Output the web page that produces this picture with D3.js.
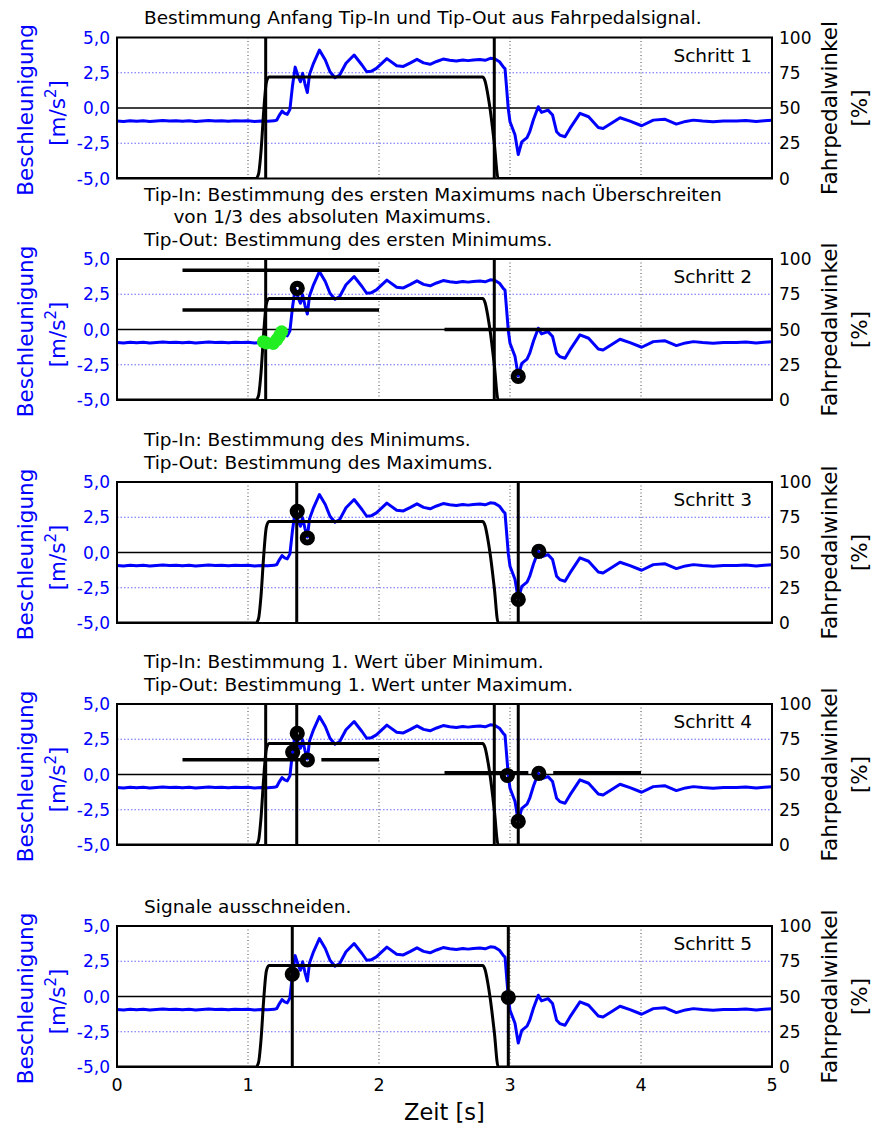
<!DOCTYPE html>
<html>
<head>
<meta charset="utf-8">
<script src="https://cdn.jsdelivr.net/npm/d3@7"></script>
<style>
  body { margin: 0; background: #fff; }
  text { font-family: "DejaVu Sans", Verdana, sans-serif; }
</style>
</head>
<body>
<svg id="chart" width="872" height="1124"></svg>
<script>
// acceleration signal [m/s^2]
const timeAcc = [0.00, 0.05, 0.10, 0.15, 0.20, 0.25, 0.30, 0.35, 0.40, 0.45, 0.50, 0.55, 0.60, 0.65, 0.70,
  0.75, 0.80, 0.85, 0.90, 0.95, 1.00, 1.05, 1.10, 1.15, 1.20, 1.22, 1.24, 1.26, 1.28, 1.30, 1.32, 1.34, 1.36,
  1.385, 1.40, 1.417, 1.435, 1.453, 1.47, 1.50, 1.545, 1.59, 1.626, 1.664, 1.70, 1.748, 1.81, 1.87, 1.906,
  1.94, 1.98, 2.06, 2.135, 2.186, 2.24, 2.29, 2.34, 2.39, 2.44, 2.49, 2.54, 2.59, 2.64, 2.68, 2.72, 2.77,
  2.81, 2.85, 2.88, 2.92, 2.95, 2.962, 2.975, 2.987, 3.00, 3.038, 3.063, 3.09, 3.13, 3.15, 3.18, 3.216, 3.24,
  3.29, 3.325, 3.356, 3.38, 3.42, 3.458, 3.534, 3.60, 3.674, 3.71, 3.78, 3.84, 3.916, 4.005, 4.094, 4.18, 4.27,
  4.34, 4.40, 4.47, 4.55, 4.63, 4.73, 4.80, 4.88, 4.94, 5.00]
const accel = [-0.92, -0.95, -0.90, -0.94, -0.91, -0.95, -0.92, -0.89, -0.93, -0.90, -0.94, -0.91, -0.95, -0.92, -0.89,
  -0.93, -0.91, -0.94, -0.90, -0.93, -0.91, -0.95, -0.92, -0.94, -0.91, -0.85, -0.50, -0.22, -0.38, -0.45, -0.10, 1.60, 2.90,
  2.20, 1.86, 2.46, 1.70, 1.10, 2.40, 3.17, 4.11, 3.40, 2.57, 2.15, 2.34, 3.17, 3.76, 3.05, 2.57,
  2.60, 2.81, 3.50, 3.00, 2.95, 3.20, 3.45, 3.20, 3.10, 3.30, 3.47, 3.38, 3.33, 3.40, 3.36, 3.40, 3.44,
  3.38, 3.52, 3.50, 3.28, 2.90, 2.80, 1.30, -0.07, -0.97, -1.90, -3.30, -2.40, -2.10, -1.70, -0.80, 0.09, -0.31,
  -0.15, -0.50, -1.69, -1.92, -2.04, -1.45, -0.38, -0.62, -1.38, -1.45, -1.05, -0.69, -0.93, -1.26, -0.86, -0.79, -1.14,
  -0.95, -0.86, -0.93, -0.98, -0.92, -0.93, -0.88, -0.95, -0.90, -0.86]

// accelerator pedal angle [%]
const timePedal = [0, 1.06, 1.08, 1.10, 1.12, 1.14, 1.16, 2.79, 2.81, 2.83, 2.85, 2.88, 2.91, 5]
const pedal = [0, 0, 3, 20, 48, 68, 72, 72, 69, 60, 48, 25, 0, 0]

const stepNames = ["Schritt 1", "Schritt 2", "Schritt 3", "Schritt 4", "Schritt 5"]
const titles = [
  ["Bestimmung Anfang Tip-In und Tip-Out aus Fahrpedalsignal."],
  ["Tip-In: Bestimmung des ersten Maximums nach Überschreiten",
   "     von 1/3 des absoluten Maximums.",
   "Tip-Out: Bestimmung des ersten Minimums."],
  ["Tip-In: Bestimmung des Minimums.", "Tip-Out: Bestimmung des Maximums."],
  ["Tip-In: Bestimmung 1. Wert über Minimum.", "Tip-Out: Bestimmung 1. Wert unter Maximum."],
  ["Signale ausschneiden."]
]

// vertical markers (time [s]) per step
const cutTimes = [[1.135, 2.88], [1.135, 2.88], [1.372, 3.063], [1.135, 1.372, 2.88, 3.063], [1.338, 2.987]]
// thresholds: [from s, to s, level m/s^2]
const levels = [
  [],
  [[0.5, 2.0, 4.2], [0.5, 2.0, 1.38], [2.5, 5.0, 0]],
  [],
  [[0.5, 1.40, 1.04], [1.56, 2.0, 1.04], [2.5, 3.14, 0.12], [3.33, 4.0, 0.12]],
  []
]
// found points: [time s, accel]
const foundPoints = [
  [],
  [[1.376, 2.92], [3.063, -3.33]],
  [[1.376, 2.92], [1.453, 1.03], [3.063, -3.33], [3.22, 0.08]],
  [[1.341, 1.59], [1.376, 2.92], [1.453, 1.03], [2.98, -0.07], [3.063, -3.33], [3.22, 0.08]],
  [[1.338, 1.59], [2.987, -0.07]]
]
const greenPoints = [[1.117, -0.87], [1.14, -0.95], [1.193, -0.99], [1.22, -0.72], [1.24, -0.45], [1.257, -0.16]]

const accTicks = [-5, -2.5, 0, 2.5, 5]
const pedalTicks = [0, 25, 50, 75, 100]
const timeTicks = [0, 1, 2, 3, 4, 5]

const svg = d3.select('#chart')
const tops = [37.5, 259, 482, 704, 926]
const plotH = 141
const x = d3.scaleLinear().domain([0, 5]).range([117, 772])
const fmt = v => d3.format('.1f')(v).replace('.', ',').replace('−', '-')

const accSeries = timeAcc.map((t, i) => [t, accel[i]])
const pedalSeries = timePedal.map((t, i) => [t, pedal[i]])

tops.forEach((top, k) => {
  const yL = d3.scaleLinear().domain([-5, 5]).range([top + plotH, top])
  const yR = d3.scaleLinear().domain([0, 100]).range([top + plotH, top])
  const g = svg.append('g')

  g.append('clipPath').attr('id', 'clip' + k)
    .append('rect').attr('x', x(0)).attr('y', top).attr('width', x(5) - x(0)).attr('height', plotH)

  // grid
  g.selectAll('.vg').data([1, 2, 3, 4]).join('line')
    .attr('x1', d => x(d)).attr('x2', d => x(d)).attr('y1', top).attr('y2', top + plotH)
    .attr('stroke', '#444').attr('stroke-width', 1).attr('stroke-dasharray', '1,2.5')
  g.selectAll('.hg').data([-2.5, 2.5]).join('line')
    .attr('x1', x(0)).attr('x2', x(5)).attr('y1', d => yL(d)).attr('y2', d => yL(d))
    .attr('stroke', '#6a6aff').attr('stroke-width', 1.2).attr('stroke-dasharray', '1.5,2')
  g.append('line').attr('x1', x(0)).attr('x2', x(5)).attr('y1', yL(0)).attr('y2', yL(0))
    .attr('stroke', '#000').attr('stroke-width', 1.5)

  const plot = g.append('g').attr('clip-path', `url(#clip${k})`)

  plot.append('path').datum(accSeries)
    .attr('d', d3.line().x(d => x(d[0])).y(d => yL(d[1])))
    .attr('fill', 'none').attr('stroke', '#0000ff').attr('stroke-width', 3).attr('stroke-linejoin', 'round')

  plot.append('path').datum(pedalSeries)
    .attr('d', d3.line().x(d => x(d[0])).y(d => yR(d[1])).curve(d3.curveMonotoneX))
    .attr('fill', 'none').attr('stroke', '#000').attr('stroke-width', 3)

  plot.selectAll('.cut').data(cutTimes[k]).join('line')
    .attr('x1', d => x(d)).attr('x2', d => x(d)).attr('y1', top).attr('y2', top + plotH)
    .attr('stroke', '#000').attr('stroke-width', 3)

  plot.selectAll('.lvl').data(levels[k]).join('line')
    .attr('x1', d => x(d[0])).attr('x2', d => x(d[1])).attr('y1', d => yL(d[2])).attr('y2', d => yL(d[2]))
    .attr('stroke', '#000').attr('stroke-width', 3.5)

  if (k === 1) {
    plot.selectAll('.green').data(greenPoints).join('circle')
      .attr('cx', d => x(d[0])).attr('cy', d => yL(d[1])).attr('r', 6.5)
      .attr('fill', '#22ee22')
  }

  plot.selectAll('.pt').data(foundPoints[k]).join('circle')
    .attr('cx', d => x(d[0])).attr('cy', d => yL(d[1])).attr('r', 4.6)
    .attr('fill', 'none').attr('stroke', '#000').attr('stroke-width', 6)

  // frame
  g.append('rect').attr('x', x(0)).attr('y', top).attr('width', x(5) - x(0)).attr('height', plotH)
    .attr('fill', 'none').attr('stroke', '#000').attr('stroke-width', 2)

  // tick labels
  g.selectAll('.tl').data(accTicks).join('text')
    .attr('x', 110).attr('y', d => yL(d)).attr('dy', '0.36em').attr('text-anchor', 'end')
    .attr('font-size', 17).attr('fill', '#0000ff').text(fmt)
  g.selectAll('.tr').data(pedalTicks).join('text')
    .attr('x', 779).attr('y', d => yR(d)).attr('dy', '0.36em')
    .attr('font-size', 17).attr('fill', '#000').text(d => d)

  // axis titles
  const cy = top + plotH / 2
  g.append('text').attr('transform', `translate(25,${cy + 2}) rotate(-90)`).attr('dy', '0.36em')
    .attr('text-anchor', 'middle').attr('font-size', 21.5).attr('fill', '#0000ff').text('Beschleunigung')
  const unit = g.append('text').attr('transform', `translate(57,${cy + 5}) rotate(-90)`).attr('dy', '0.36em')
    .attr('text-anchor', 'middle').attr('font-size', 21.5).attr('fill', '#0000ff')
  unit.append('tspan').text('[m/s')
  unit.append('tspan').attr('font-size', 15).attr('dy', -9).text('2')
  unit.append('tspan').attr('dy', 9).text(']')
  g.append('text').attr('transform', `translate(829,${cy}) rotate(-90)`).attr('dy', '0.36em')
    .attr('text-anchor', 'middle').attr('font-size', 21.5).attr('fill', '#000').text('Fahrpedalwinkel')
  g.append('text').attr('transform', `translate(859,${cy}) rotate(-90)`).attr('dy', '0.36em')
    .attr('text-anchor', 'middle').attr('font-size', 21.5).attr('fill', '#000').text('[%]')

  // step label and title
  g.append('text').attr('x', 752).attr('y', top + 24).attr('text-anchor', 'end')
    .attr('font-size', 18.5).text(stepNames[k])
  const lines = titles[k]
  lines.forEach((s, i) => {
    g.append('text').attr('x', 144).attr('y', top - 13.5 - (lines.length - 1 - i) * 22.5)
      .attr('font-size', 18.5).style('white-space', 'pre').text(s)
  })

  if (k === 4) {
    g.selectAll('.tx').data(timeTicks).join('text')
      .attr('x', d => x(d)).attr('y', top + plotH + 24).attr('text-anchor', 'middle')
      .attr('font-size', 17.5).text(d => d)
    g.append('text').attr('x', (x(0) + x(5)) / 2).attr('y', 1120).attr('text-anchor', 'middle')
      .attr('font-size', 22.5).text('Zeit [s]')
  }
})
</script>
</body>
</html>
